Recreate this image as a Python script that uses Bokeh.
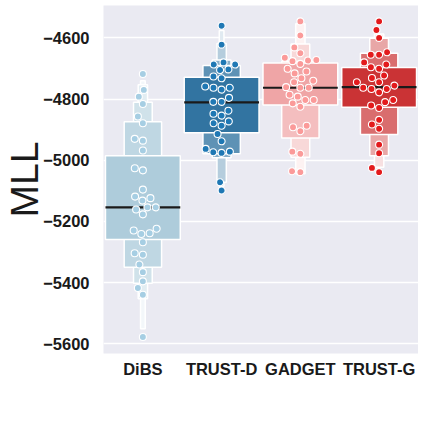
import numpy as np
from bokeh.plotting import figure
from bokeh.models import FixedTicker, ColumnDataSource
from bokeh.embed import file_html
from bokeh.resources import INLINE

# ---------------- data ----------------
categories = ["DiBS", "TRUST-D", "GADGET", "TRUST-G"]
point_colors = ["#a6cee3", "#1f78b4", "#fb9a99", "#e31a1c"]
box_colors = ["#aeccdb", "#3274a1", "#efa5a6", "#ca3335"]

dibs_mll = [-4718, -4770, -4792, -4816, -4857, -4879, -4930, -4936, -4968, -5026,
            -5033, -5096, -5124, -5132, -5119, -5161, -5154, -5154, -5177, -5224,
            -5241, -5239, -5230, -5268, -5304, -5309, -5341, -5366, -5396, -5418,
            -5440, -5578]
trust_d_mll = [-4560, -4622, -4680, -4687, -4687, -4705, -4703, -4726, -4732, -4759,
               -4763, -4769, -4763, -4796, -4809, -4809, -4838, -4854, -4848, -4873,
               -4887, -4879, -4914, -4938, -4963, -4974, -4976, -4972, -5072, -5099]
gadget_mll = [-4546, -4592, -4631, -4650, -4674, -4665, -4685, -4676, -4672, -4701,
              -4716, -4710, -4732, -4740, -4761, -4745, -4763, -4763, -4786, -4792,
              -4803, -4803, -4814, -4825, -4892, -4905, -4887, -4972, -4979, -5036,
              -5039]
trust_g_mll = [-4546, -4574, -4600, -4655, -4655, -4647, -4687, -4701, -4696, -4680,
               -4731, -4723, -4756, -4767, -4745, -4778, -4767, -4763, -4745, -4821,
               -4829, -4810, -4803, -4883, -4897, -4868, -4949, -4977, -5039, -5025]

medians = [-5154, -4811, -4763, -4761]

# letter-value boxes, innermost level first
dibs_lv_low = [-5259, -5350, -5402, -5453, -5551]
dibs_lv_high = [-4985, -4874, -4810, -4753, -4740]
trust_d_lv_low = [-4910, -4979, -4992, -5072, -5085]
trust_d_lv_high = [-4729, -4690, -4672, -4618, -4576]
gadget_lv_low = [-4819, -4927, -4990, -5044]
gadget_lv_high = [-4682, -4677, -4620, -4554]
trust_g_lv_low = [-4827, -4916, -4985, -5023]
trust_g_lv_high = [-4697, -4650, -4601, -4587]

y_ticks = [-4600, -4800, -5000, -5200, -5400, -5600]
y_tick_labels = ["\u22124600", "\u22124800", "\u22125000", "\u22125200", "\u22125400", "\u22125600"]
y_title = "MLL"

# ---------------- geometry ----------------
W, H = 418, 415
BL, BT, BB = 101, 5, 62
FW, FH = W - BL, H - BT - BB
Y0, Y1 = -5632, -4494
px_x = FW / 4.0
px_y = FH / (Y1 - Y0)
BOX_W = 0.95

values = [dibs_mll, trust_d_mll, gadget_mll, trust_g_mll]
lv_low = [dibs_lv_low, trust_d_lv_low, gadget_lv_low, trust_g_lv_low]
lv_high = [dibs_lv_high, trust_d_lv_high, gadget_lv_high, trust_g_lv_high]


def blend(hexc, t):
    h = hexc.lstrip("#")
    r, g, b = (int(h[i:i + 2], 16) for i in (0, 2, 4))
    r = round(r + (255 - r) * t)
    g = round(g + (255 - g) * t)
    b = round(b + (255 - b) * t)
    return "#%02x%02x%02x" % (r, g, b)


def swarm(vals, d=8.4):
    ys = np.asarray(vals, dtype=float) * px_y
    xs = np.zeros(len(ys))
    placed = []
    for i in np.argsort(ys, kind="stable"):
        y = ys[i]
        neigh = [(xs[j], ys[j]) for j in placed if abs(ys[j] - y) < d]
        cands = [0.0]
        for nx, ny in neigh:
            dx = np.sqrt(max(d * d - (y - ny) ** 2, 0.0))
            cands += [nx - dx, nx + dx]
        cands = sorted(cands, key=lambda c: (round(abs(c), 6), c))
        for c in cands:
            if all((c - nx) ** 2 + (y - ny) ** 2 >= d * d - 1e-6 for nx, ny in neigh):
                xs[i] = c
                break
        placed.append(i)
    return xs / px_x


p = figure(width=W, height=H, output_backend="svg", toolbar_location=None,
           x_range=(-0.5, 3.5), y_range=(Y0, Y1),
           min_border_left=BL, min_border_right=0, min_border_top=BT,
           min_border_bottom=BB)
p.background_fill_color = "#eaeaf2"
p.border_fill_color = "white"
p.outline_line_color = None
p.xgrid.grid_line_color = None
p.ygrid.grid_line_color = "white"
p.ygrid.grid_line_width = 1.5
p.ygrid.ticker = FixedTicker(ticks=y_ticks)

# boxes
bx = dict(left=[], right=[], top=[], bottom=[], color=[])
for ci in range(4):
    n = len(lv_low[ci])
    for lev in reversed(range(n)):
        w = BOX_W * 0.5 ** lev
        t = 0.85 * lev / (n - 1)
        bx["left"].append(ci - w / 2)
        bx["right"].append(ci + w / 2)
        bx["bottom"].append(lv_low[ci][lev])
        bx["top"].append(lv_high[ci][lev])
        bx["color"].append(blend(box_colors[ci], t))
p.quad(left="left", right="right", top="top", bottom="bottom", fill_color="color",
       line_color="white", line_width=1.5, source=ColumnDataSource(bx))

# medians
p.segment(x0=[c - BOX_W / 2 for c in range(4)], x1=[c + BOX_W / 2 for c in range(4)],
          y0=medians, y1=medians, line_color="#1a1a1a", line_width=2.2)

# swarm points
for ci in range(4):
    offs = swarm(values[ci])
    p.scatter(x=ci + offs, y=values[ci], size=7, fill_color=point_colors[ci],
              line_color="white", line_width=1.1)

# axes
for ax in (p.xaxis, p.yaxis):
    ax.axis_line_color = None
    ax.major_tick_line_color = None
    ax.minor_tick_line_color = None
    ax.major_label_text_font = "Liberation Sans"
    ax.major_label_text_font_style = "bold"
    ax.major_label_text_font_size = "16.5px"
    ax.major_label_text_color = "#1a1a1a"
p.xaxis.ticker = FixedTicker(ticks=[0, 1, 2, 3])
p.xaxis.major_label_overrides = {i: c for i, c in enumerate(categories)}
p.xaxis.major_label_standoff = 0
p.yaxis.ticker = FixedTicker(ticks=y_ticks)
p.yaxis.major_label_overrides = dict(zip(y_ticks, y_tick_labels))
p.yaxis.major_label_standoff = 8
p.yaxis.axis_label = y_title
p.yaxis.axis_label_standoff = -6
p.yaxis.axis_label_text_font = "Liberation Sans"
p.yaxis.axis_label_text_font_style = "normal"
p.yaxis.axis_label_text_font_size = "39px"
p.yaxis.axis_label_text_color = "#1a1a1a"

open("out.html", "w").write(file_html(p, INLINE))
